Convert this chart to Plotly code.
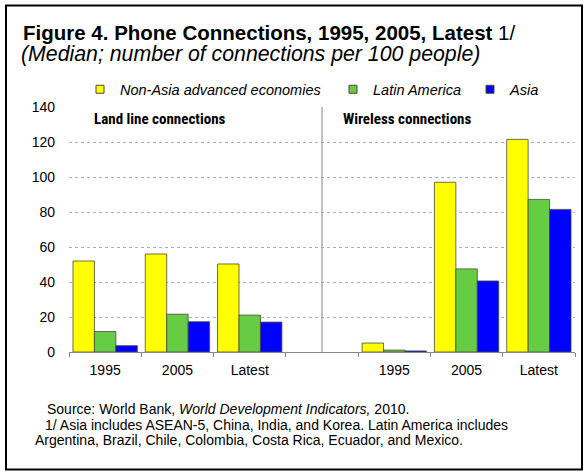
import plotly.graph_objects as go

# Median number of phone connections per 100 people
periods = ["1995", "2005", "Latest"]
series_names = ["Non-Asia advanced economies", "Latin America", "Asia"]
series_colors = ["#FFFF00", "#66CC44", "#0000FF"]

landline_non_asia = [52.0, 56.0, 50.3]
landline_latam = [11.7, 21.6, 21.1]
landline_asia = [3.6, 17.3, 17.1]

wireless_non_asia = [5.1, 97.0, 121.5]
wireless_latam = [1.1, 47.5, 87.2]
wireless_asia = [0.6, 40.6, 81.5]

landline = [landline_non_asia, landline_latam, landline_asia]
wireless = [wireless_non_asia, wireless_latam, wireless_asia]

y_ticks = [0, 20, 40, 60, 80, 100, 120, 140]

# Slot positions: land line panel, one empty slot, wireless panel
n = len(periods)
left_pos = list(range(n))
right_pos = [p + n + 1 for p in left_pos]
x_pos = left_pos + right_pos
divider_x = n
boundaries = [p - 0.5 for p in range(2 * n + 2)]

FONT = "Arial, Liberation Sans, sans-serif"
NARROW = "Liberation Sans Narrow, Arial Narrow, Roboto Condensed, sans-serif"
OUTLINE = "#4a4a3a"

# plot-area geometry in pixels, used to place the decorations in paper units
PL, PR, PT, PB = 69, 575, 106.7, 352.3


def px_x(px):
    return (px - PL) / (PR - PL)


def px_y(py):
    return (PB - py) / (PB - PT)


legend_ids = ["legend", "legend2", "legend3"]
legend_x_px = [80, 333, 470]

fig = go.Figure()

for name, color, land, wire, lid in zip(series_names, series_colors,
                                        landline, wireless, legend_ids):
    fig.add_trace(go.Bar(
        x=x_pos, y=land + wire, name=name, showlegend=False,
        marker=dict(color=color, line=dict(color=OUTLINE, width=0.8)),
    ))
    # small square swatch for the legend
    fig.add_trace(go.Scatter(
        x=[None], y=[None], name=name, mode="markers", legend=lid,
        marker=dict(symbol="square", size=8, color=color,
                    line=dict(color=OUTLINE, width=1)),
    ))

# overlay axis carrying the period labels
fig.add_trace(go.Scatter(x=[x_pos[0]], y=[None], xaxis="x2", showlegend=False,
                         hoverinfo="skip"))

legend_style = dict(orientation="h", xanchor="left", y=px_y(89), yanchor="middle",
                    font=dict(family=FONT, size=14.5, style="italic"),
                    bgcolor="rgba(0,0,0,0)", itemclick=False)

fig.update_layout(
    width=587, height=475,
    margin=dict(l=PL, r=587 - PR, t=PT, b=475 - PB),
    paper_bgcolor="white", plot_bgcolor="white",
    font=dict(family=FONT, size=14, color="black"),
    barmode="group", bargap=0.11, bargroupgap=0,
    showlegend=True,
    legend=dict(x=px_x(legend_x_px[0]), **legend_style),
    legend2=dict(x=px_x(legend_x_px[1]), **legend_style),
    legend3=dict(x=px_x(legend_x_px[2]), **legend_style),
    xaxis=dict(range=[-0.5, 2 * n + 0.5], tickvals=boundaries,
               ticktext=[""] * len(boundaries), ticks="outside", ticklen=4,
               tickcolor="#888888", showline=True, linecolor="#888888",
               linewidth=1, showgrid=False, zeroline=False, fixedrange=True),
    xaxis2=dict(overlaying="x", matches="x", anchor="y", side="bottom",
                tickvals=x_pos, ticktext=periods + periods, ticks="",
                showline=False, showgrid=False, zeroline=False,
                ticklabelstandoff=8, tickfont=dict(family=FONT, size=14)),
    yaxis=dict(range=[0, 140], tickvals=y_ticks, showline=False,
               showgrid=True, gridcolor="#b0b0b0", griddash="dot", gridwidth=1,
               zeroline=False, ticks="", ticklabelstandoff=13,
               tickfont=dict(family=FONT, size=14), fixedrange=True),
)

# title and subtitle
fig.add_annotation(
    text="<b>Figure 4. Phone Connections, 1995, 2005, Latest</b> 1/",
    xref="paper", yref="paper", x=px_x(21), y=px_y(32),
    xanchor="left", yanchor="middle", showarrow=False,
    font=dict(family=FONT, size=20.5, color="black"),
)
fig.add_annotation(
    text="<i>(Median; number of connections per 100 people)</i>",
    xref="paper", yref="paper", x=px_x(19), y=px_y(54),
    xanchor="left", yanchor="middle", showarrow=False,
    font=dict(family=FONT, size=21.3, color="black"),
)

# panel labels
fig.add_annotation(text="<b>Land line connections</b>", xref="paper", yref="paper",
                   x=px_x(92), y=px_y(119), xanchor="left",
                   yanchor="middle", showarrow=False,
                   font=dict(family=NARROW, size=15, color="black"))
fig.add_annotation(text="<b>Wireless connections</b>", xref="paper", yref="paper",
                   x=px_x(341), y=px_y(119), xanchor="left",
                   yanchor="middle", showarrow=False,
                   font=dict(family=NARROW, size=15, color="black"))

# divider between the two panels
fig.add_shape(type="line", xref="x", yref="y", x0=divider_x, x1=divider_x,
              y0=0, y1=140, line=dict(color="#999999", width=1.2))

# source and notes
notes = [
    ("Source: World Bank, <i>World Development Indicators,</i> 2010.", 45, 409),
    ("1/ Asia includes ASEAN-5, China, India, and Korea. Latin America includes", 43, 425),
    ("Argentina, Brazil, Chile, Colombia, Costa Rica, Ecuador, and Mexico.", 33, 441),
]
for txt, nx, ny in notes:
    fig.add_annotation(text=txt, xref="paper", yref="paper",
                       x=px_x(nx), y=px_y(ny),
                       xanchor="left", yanchor="middle", showarrow=False,
                       font=dict(family=FONT, size=14, color="black"))

# frame around the whole figure
fig.add_shape(type="rect", xref="paper", yref="paper",
              x0=px_x(6), x1=px_x(582), y0=px_y(470), y1=px_y(5),
              line=dict(color="black", width=2), fillcolor="rgba(0,0,0,0)",
              layer="below")

fig.write_html("out.html")
